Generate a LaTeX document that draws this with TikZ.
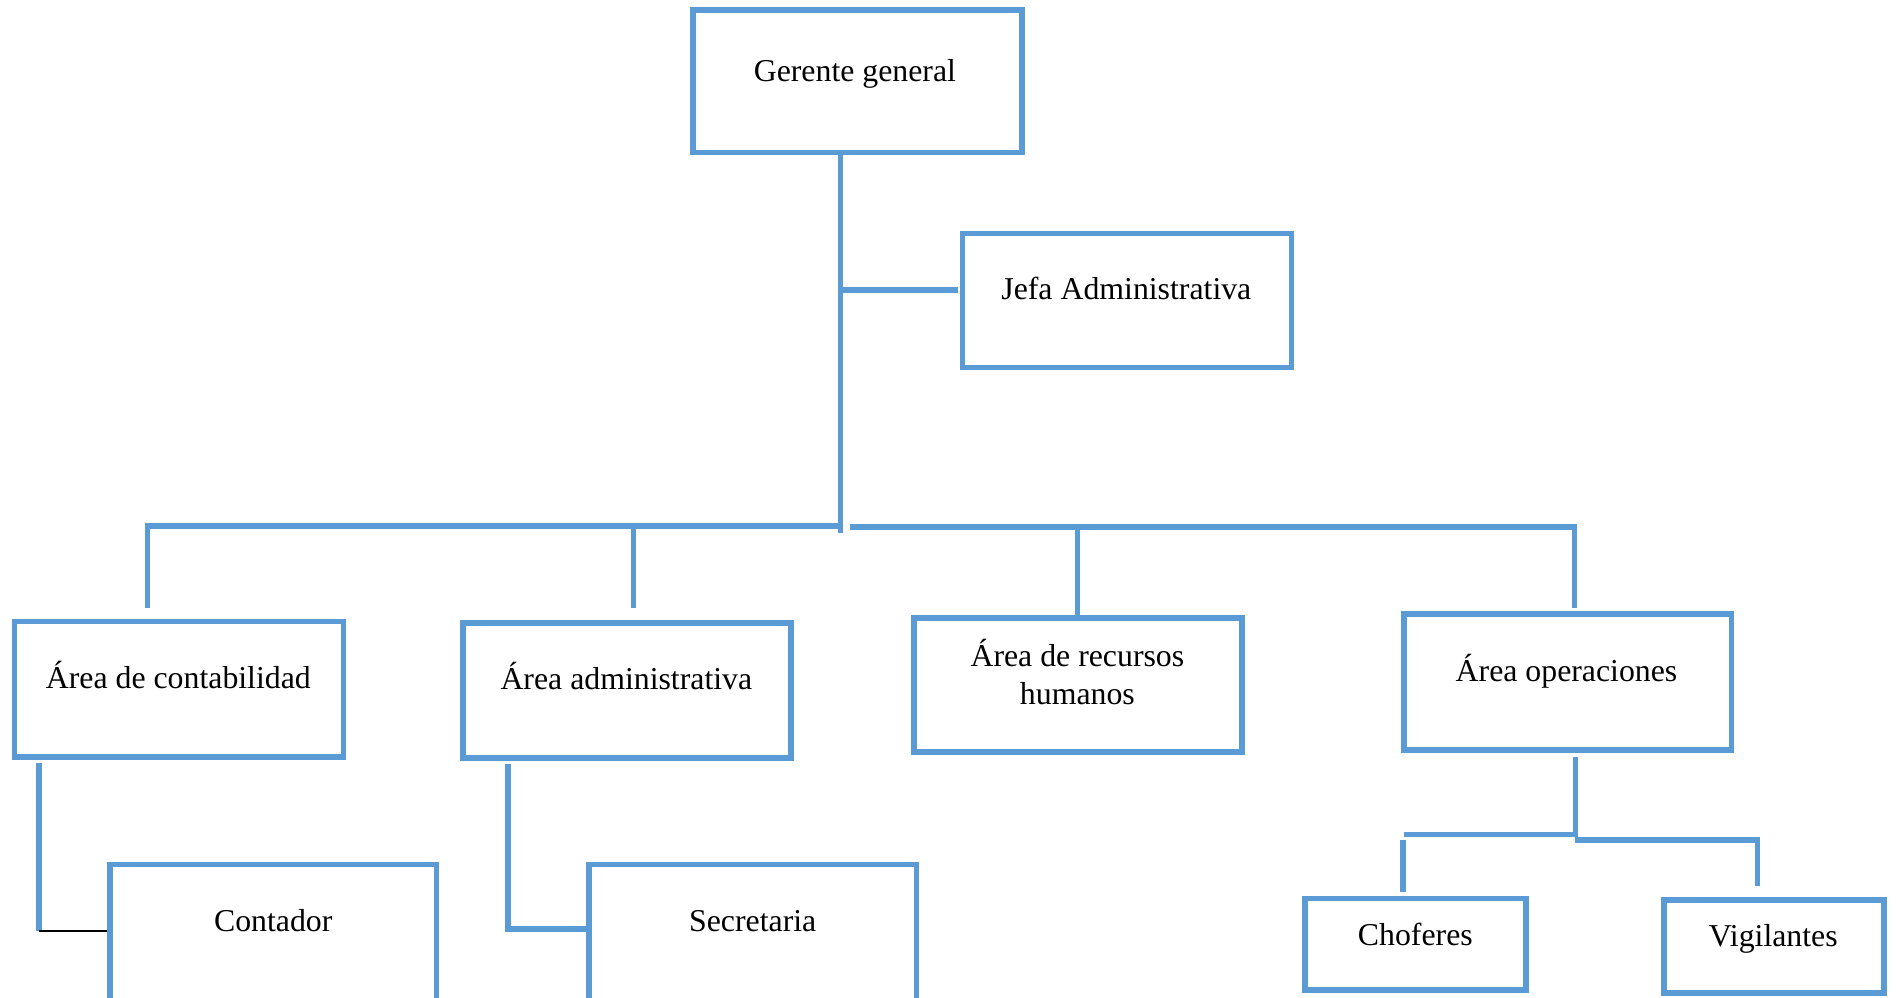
\documentclass[tikz,border=0pt]{standalone}
\usepackage{fontspec}
\setmainfont{Liberation Serif}
\definecolor{orgblue}{RGB}{91,155,213}
\begin{document}
\begin{tikzpicture}[x=0.5pt,y=-0.5pt,
  box/.style={draw=orgblue,line width=2.35pt,rectangle,inner sep=0pt,fill=white},
  conn/.style={draw=orgblue,line width=2.35pt},
  thinconn/.style={draw=black,line width=0.9pt},
  lbl/.style={inner sep=0pt,anchor=base,font=\fontsize{13.15pt}{16pt}\selectfont}]
\useasboundingbox (0,0) rectangle (1568,825);
\clip (0,0) rectangle (1568,825);
\fill[white] (0,0) rectangle (1568,825);
% boxes
\node[box,minimum width=136pt,minimum height=59pt] (G) at (709,67) {};
\node[box,minimum width=136pt,minimum height=55.5pt] (J) at (932,248.5) {};
\node[box,minimum width=136pt,minimum height=56pt] (AC) at (148,570) {};
\node[box,minimum width=135.5pt,minimum height=56pt] (AA) at (518.5,571) {};
\node[box,minimum width=135.5pt,minimum height=55.5pt] (RH) at (891.5,566.5) {};
\node[box,minimum width=135.5pt,minimum height=56pt] (AO) at (1296.5,564) {};
\node[box,minimum width=135pt,minimum height=56.5pt] (CO) at (226,771.5) {};
\node[box,minimum width=135.5pt,minimum height=56.5pt] (SE) at (622.5,771.5) {};
\node[box,minimum width=91.5pt,minimum height=38pt] (CH) at (1170.5,781) {};
\node[box,minimum width=91pt,minimum height=38.25pt] (VI) at (1467,782.75) {};
% labels
\node[lbl] (tG) at (707,67) {Gerente general};
\node[lbl] (tJ) at (931.5,248) {Jefa Administrativa};
\node[lbl] (tAC) at (147.5,569) {Área de contabilidad};
\node[lbl] (tAA) at (518,570) {Área administrativa};
\node[lbl] (tRH1) at (891,551) {Área de recursos};
\node[lbl] (tRH2) at (891,583) {humanos};
\node[lbl] (tAO) at (1295.5,564) {Área operaciones};
\node[lbl] (tCO) at (226,770) {Contador};
\node[lbl] (tSE) at (622.5,770) {Secretaria};
\node[lbl] (tCH) at (1170.5,782) {Choferes};
\node[lbl] (tVI) at (1466.5,783) {Vigilantes};
% junction coordinates
\coordinate (j0) at (695,440.5);
\coordinate (jJ) at (695,240);
\coordinate (jJe) at (792,240);
\coordinate (bl) at (695,435);
\coordinate (br) at (703,436);
\coordinate (dAC) at (122,503);
\coordinate (dAA) at (524,503);
\coordinate (dRH) at (891,436);
\coordinate (dAO) at (1302,503);
\coordinate (cAC) at (32,631);
\coordinate (cCO) at (32,770);
\coordinate (cAA) at (420,632);
\coordinate (cSE) at (420,768);
\coordinate (oA) at (1303,626);
\coordinate (oB) at (1303,690);
\coordinate (oL) at (1161,690);
\coordinate (oC1) at (1160,694.7);
\coordinate (oC2) at (1160,738);
\coordinate (oR) at (1302.5,694.7);
\coordinate (oV1) at (1453.5,694.7);
\coordinate (oV2) at (1453.5,733);
% connectors
\draw[conn] (G.south -| j0) -- (j0);
\draw[conn] (jJ) -- (jJe);
\draw[conn] (dAC) -- (dAC |- bl) -- (bl);
\draw[conn] (dAA |- bl) -- (dAA);
\draw[conn] (br) -- (dAO |- br) -- (dAO);
\draw[conn] (dRH) -- (dRH |- RH.north);
\draw[conn] (cAC) -- (cCO);
\draw[thinconn] (cCO) -- (cCO -| CO.west);
\draw[conn] (cAA) -- (cSE) -- (cSE -| SE.west);
\draw[conn] (oA) -- (oB) -- (oL);
\draw[conn] (oC1) -- (oC2);
\draw[conn] (oR) -- (oV1) -- (oV2);
\end{tikzpicture}
\end{document}
